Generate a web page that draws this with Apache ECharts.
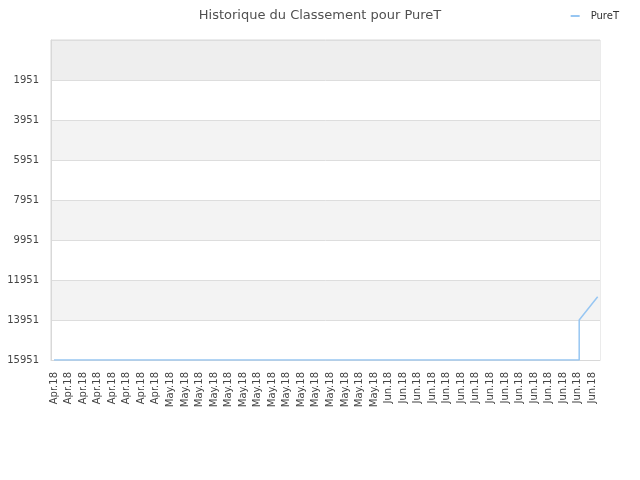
<!DOCTYPE html>
<html>
<head>
<meta charset="utf-8">
<script src="https://cdn.jsdelivr.net/npm/echarts@6/dist/echarts.min.js"></script>
<style>html,body{margin:0;padding:0;background:#fff}#c{width:640px;height:480px}</style>
</head>
<body>
<div id="c"></div>
<script>
// Tick labels on the x axis (one per label slot)
const xLabels = [
  'Apr.18','Apr.18','Apr.18','Apr.18','Apr.18','Apr.18','Apr.18','Apr.18',
  'May.18','May.18','May.18','May.18','May.18','May.18','May.18','May.18',
  'May.18','May.18','May.18','May.18','May.18','May.18','May.18',
  'Jun.18','Jun.18','Jun.18','Jun.18','Jun.18','Jun.18','Jun.18','Jun.18',
  'Jun.18','Jun.18','Jun.18','Jun.18','Jun.18','Jun.18','Jun.18'
];
// Series: position along the label slots, and rank
const pointPos = [0, 36.1, 36.1, 37.37];
const rankValues = [15951, 15951, 13951, 12786];
const yTicks = [1951, 3951, 5951, 7951, 9951, 11951, 13951, 15951];
const seriesName = 'PureT';
const titleText = 'Historique du Classement pour PureT';

const font = 'DejaVu Sans';
const chart = echarts.init(document.getElementById('c'), null, {renderer: 'canvas'});
const labelIdx = xLabels.map((_, i) => i);
chart.setOption({
  animation: false,
  backgroundColor: '#ffffff',
  title: {
    text: titleText, left: 'center', top: 4,
    textStyle: {fontFamily: font, fontSize: 13, fontWeight: 'normal', color: '#505050'}
  },
  legend: {
    right: 16, top: 6, itemWidth: 9, itemHeight: 2, icon: 'rect',
    data: [seriesName],
    textStyle: {fontFamily: font, fontSize: 10, color: '#333333', padding: [0, 0, 0, 6]}
  },
  grid: {left: 51, right: 40, top: 40, bottom: 120, show: true, borderColor: '#d8d8d8', borderWidth: 1, backgroundColor: 'transparent'},
  xAxis: {
    type: 'value', min: -0.206, max: 37.53,
    axisLine: {show: true, onZero: false, lineStyle: {color: '#d8d8d8'}},
    axisTick: {show: false, customValues: labelIdx},
    splitLine: {show: false},
    axisLabel: {
      customValues: labelIdx, rotate: 90, margin: 12,
      fontFamily: font, fontSize: 10, color: '#444444',
      formatter: v => xLabels[Math.round(v)]
    }
  },
  yAxis: {
    type: 'value', inverse: true, min: yTicks[0] - 2000, max: yTicks[yTicks.length - 1], interval: 2000,
    axisLine: {show: true, onZero: false, lineStyle: {color: '#d8d8d8'}},
    axisTick: {show: false},
    splitLine: {show: true, lineStyle: {color: '#dddddd', width: 1}},
    splitArea: {show: true, areaStyle: {color: ['#eeeeee', '#ffffff', '#f3f3f3', '#ffffff', '#f3f3f3', '#ffffff', '#f3f3f3', '#ffffff']}},
    axisLabel: {
      showMinLabel: false, margin: 12,
      fontFamily: font, fontSize: 10, color: '#444444',
      formatter: v => (yTicks.indexOf(v) >= 0 ? String(v) : '')
    }
  },
  series: [{
    name: seriesName, type: 'line', symbol: 'none',
    lineStyle: {color: '#97c6f2', width: 1.5},
    itemStyle: {color: '#97c6f2'},
    data: pointPos.map((p, i) => [p, rankValues[i]])
  }]
});
</script>
</body>
</html>
